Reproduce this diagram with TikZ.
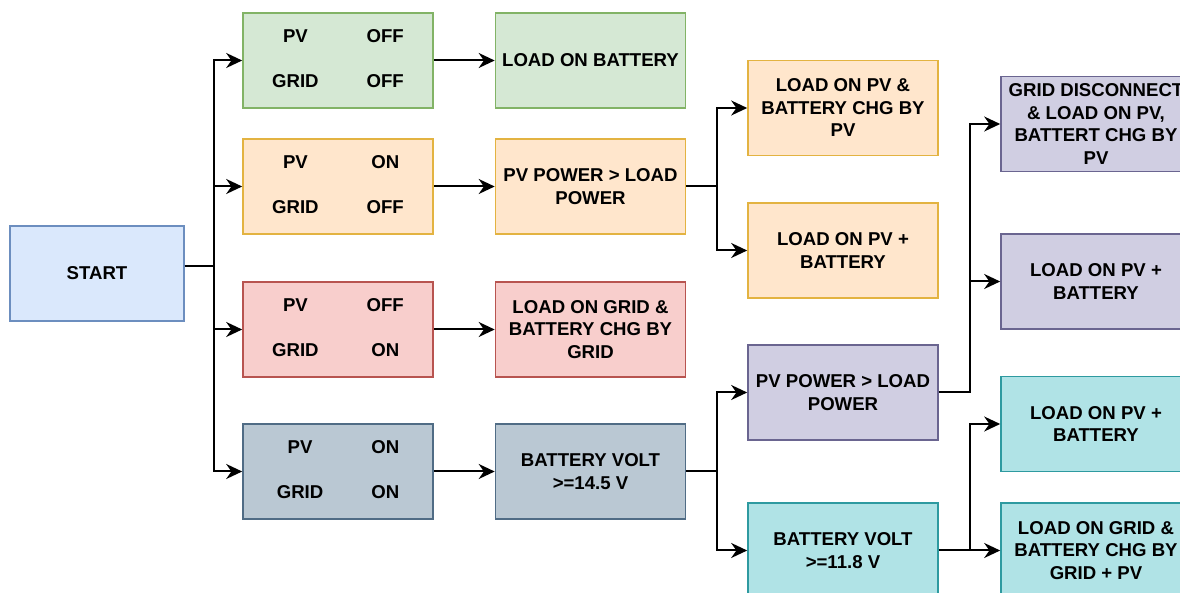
\documentclass[tikz,border=0pt]{standalone}
\usepackage{fontspec}
\setmainfont{Liberation Sans}
\usetikzlibrary{arrows.meta}
\definecolor{bluefill}{HTML}{DAE8FC}\definecolor{blueline}{HTML}{6C8EBF}
\definecolor{greenfill}{HTML}{D5E8D4}\definecolor{greenline}{HTML}{82B366}
\definecolor{orangefill}{HTML}{FFE6CC}\definecolor{orangeline}{HTML}{E3B341}
\definecolor{redfill}{HTML}{F8CECC}\definecolor{redline}{HTML}{B85450}
\definecolor{greyfill}{HTML}{BAC8D3}\definecolor{greyline}{HTML}{506C85}
\definecolor{purplefill}{HTML}{D0CEE2}\definecolor{purpleline}{HTML}{6A6590}
\definecolor{cyanfill}{HTML}{B0E3E6}\definecolor{cyanline}{HTML}{2E9AA0}
\newcommand{\state}[4]{\begin{tabular}{@{}c@{\hspace{24pt}}c@{}}#1&#2\\[11.25pt]#3&#4\end{tabular}}
\begin{document}
\begin{tikzpicture}[x=0.5pt, y=-0.5pt,
  box/.style={draw, line width=0.8pt, minimum width=95pt, minimum height=47.5pt, align=center,
    font=\fontsize{9.3pt}{11.25pt}\selectfont\bfseries, inner sep=0pt},
  green/.style={box, fill=greenfill, draw=greenline},
  orange/.style={box, fill=orangefill, draw=orangeline},
  red/.style={box, fill=redfill, draw=redline},
  grey/.style={box, fill=greyfill, draw=greyline},
  purple/.style={box, fill=purplefill, draw=purpleline},
  cyan/.style={box, fill=cyanfill, draw=cyanline},
  link/.style={-{Stealth[length=8pt,width=7.5pt,inset=2.6pt]}, line width=1pt}]
\clip (0,0) rectangle (1180,593);
\node[box, fill=bluefill, draw=blueline, minimum width=87pt] (start) at (97,273.5) {START};

\node[green] (s1) at (338,60.5) {\state{PV}{OFF}{GRID}{OFF}};
\node[orange] (s2) at (338,186.5) {\state{PV}{ON}{GRID}{OFF}};
\node[red] (s3) at (338,329.5) {\state{PV}{OFF}{GRID}{ON}};
\node[grey] (s4) at (338,471.5) {\state{PV}{ON}{GRID}{ON}};

\node[green] (battery) at (590.5,60.5) {LOAD ON BATTERY};
\node[orange] (pvload) at (590.5,186.5) {PV POWER > LOAD\\POWER};
\node[red] (gridchg) at (590.5,329.5) {LOAD ON GRID \&\\BATTERY CHG BY\\GRID};
\node[grey] (volthigh) at (590.5,471.5) {BATTERY VOLT\\>=14.5 V};

\node[orange] (pvchg) at (843,108) {LOAD ON PV \&\\BATTERY CHG BY\\PV};
\node[orange] (pvbat) at (843,250.5) {LOAD ON PV +\\BATTERY};
\node[purple] (pvload2) at (843,392.5) {PV POWER > LOAD\\POWER};
\node[cyan] (voltlow) at (843,550.5) {BATTERY VOLT\\>=11.8 V};

\node[purple] (disconnect) at (1096,124) {GRID DISCONNECT\\\& LOAD ON PV,\\BATTERT CHG BY\\PV};
\node[purple] (pvbat2) at (1096,281.5) {LOAD ON PV +\\BATTERY};
\node[cyan] (pvbat3) at (1096,424) {LOAD ON PV +\\BATTERY};
\node[cyan] (gridpv) at (1096,550.5) {LOAD ON GRID \&\\BATTERY CHG BY\\GRID + PV};

\draw[link] ([yshift=3.75pt]start.east) -- ++(29,0) |- (s1.west);
\draw[link] ([yshift=3.75pt]start.east) -- ++(29,0) |- (s2.west);
\draw[link] ([yshift=3.75pt]start.east) -- ++(29,0) |- (s3.west);
\draw[link] ([yshift=3.75pt]start.east) -- ++(29,0) |- (s4.west);

\draw[link] (s1) -- (battery);
\draw[link] (s2) -- (pvload);
\draw[link] (s3) -- (gridchg);
\draw[link] (s4) -- (volthigh);

\draw[link] (pvload.east) -- ++(31,0) |- (pvchg.west);
\draw[link] (pvload.east) -- ++(31,0) |- (pvbat.west);
\draw[link] (volthigh.east) -- ++(31,0) |- (pvload2.west);
\draw[link] (volthigh.east) -- ++(31,0) |- (voltlow.west);

\draw[link] (pvload2.east) -- ++(31,0) |- (disconnect.west);
\draw[link] (pvload2.east) -- ++(31,0) |- (pvbat2.west);
\draw[link] (voltlow.east) -- ++(31,0) |- (pvbat3.west);
\draw[link] (voltlow.east) -- ++(31,0) |- (gridpv.west);
\end{tikzpicture}
\end{document}
